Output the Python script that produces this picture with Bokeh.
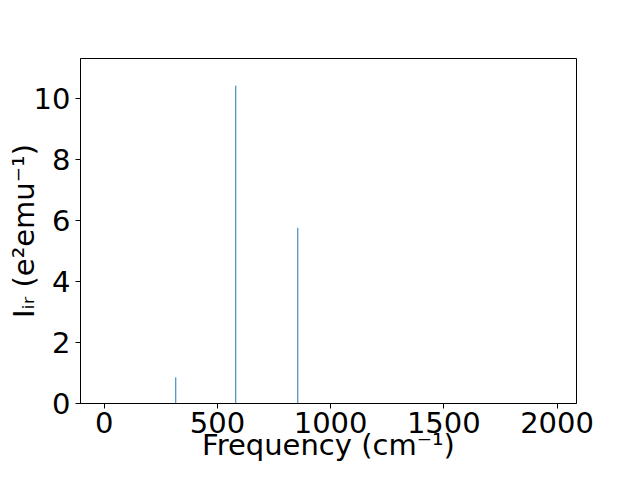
from bokeh.plotting import figure
from bokeh.models import Range1d, FixedTicker, ColumnDataSource
from bokeh.embed import file_html
from bokeh.resources import INLINE

# Data
freqs = [316, 581, 855]
intensities = [0.86, 10.44, 5.77]
x_ticks = [0, 500, 1000, 1500, 2000]
y_ticks = [0, 2, 4, 6, 8, 10]
x_label = "Frequency (cm\u207b\u00b9)"
y_label = "I\u1d62\u1d63 (e\u00b2emu\u207b\u00b9)"

FONT = "DejaVu Sans"
BIG = "29px"

src = ColumnDataSource(dict(x=freqs, y0=[0] * len(freqs), y1=intensities))

p = figure(width=624, height=464,
           x_range=Range1d(-104.7, 2086), y_range=Range1d(0, 11.33),
           min_border_left=80, min_border_right=48,
           min_border_top=58, min_border_bottom=40,
           output_backend="svg", toolbar_location=None)

p.segment(x0="x", y0="y0", x1="x", y1="y1", source=src,
          line_color="#1f77b4", line_width=1)

p.grid.visible = False
p.outline_line_color = "black"
p.outline_line_width = 1
p.background_fill_color = "white"
p.border_fill_color = "white"

for ax, ticks in ((p.xaxis[0], x_ticks), (p.yaxis[0], y_ticks)):
    ax.ticker = FixedTicker(ticks=ticks)
    ax.axis_line_color = "black"
    ax.axis_line_width = 1
    ax.major_tick_line_color = "black"
    ax.major_tick_out = 5
    ax.major_tick_in = 0
    ax.minor_tick_line_color = None
    ax.major_label_text_font = FONT
    ax.major_label_text_font_size = BIG
    ax.major_label_text_color = "black"
    ax.major_label_standoff = 5
    ax.axis_label_text_font = FONT
    ax.axis_label_text_font_size = BIG
    ax.axis_label_text_font_style = "normal"
    ax.axis_label_text_color = "black"

p.xaxis[0].axis_label = x_label
p.xaxis[0].major_label_standoff = 3
p.xaxis[0].axis_label_standoff = -8
p.yaxis[0].axis_label = y_label
p.yaxis[0].axis_label_standoff = -10

open("out.html", "w").write(file_html(p, INLINE))
